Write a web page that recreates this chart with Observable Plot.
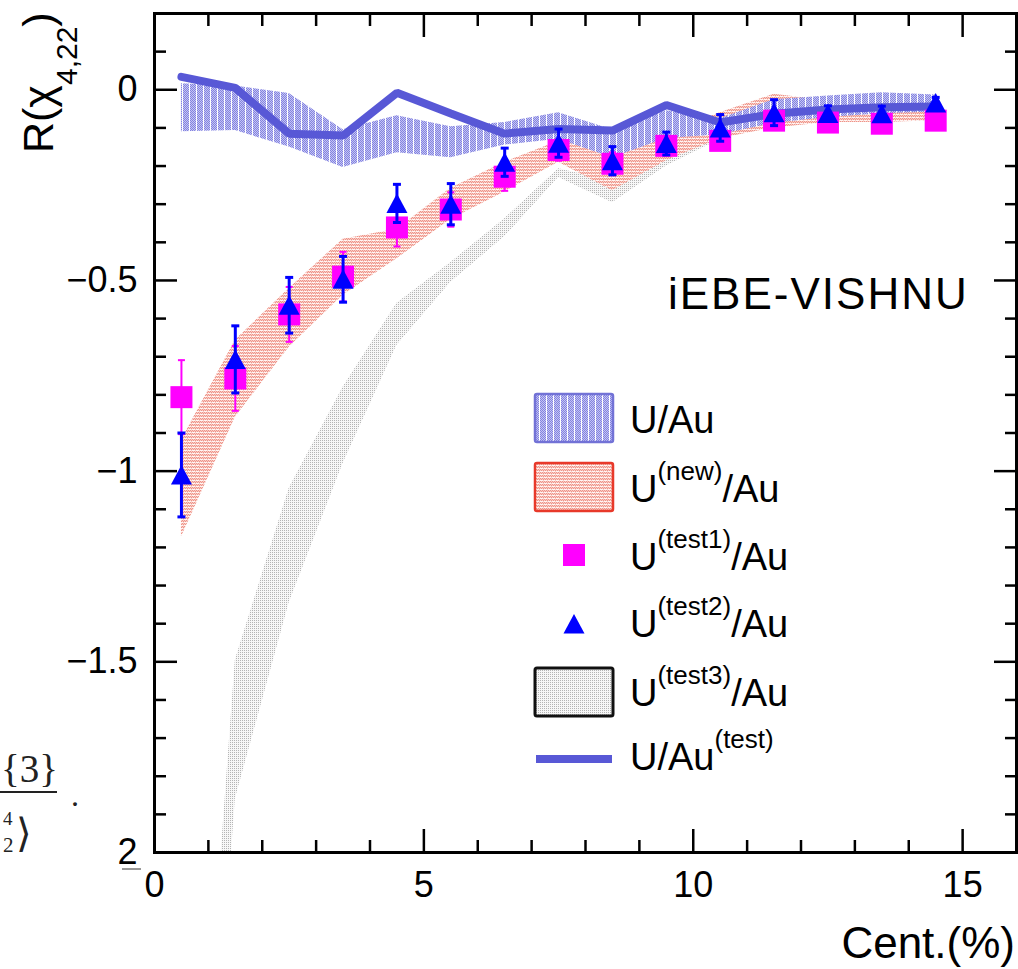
<!DOCTYPE html>
<html>
<head>
<meta charset="utf-8">
<script src="https://cdn.jsdelivr.net/npm/d3@7"></script>
<script src="https://cdn.jsdelivr.net/npm/@observablehq/plot@0.6"></script>
<style>
  body { margin: 0; background: #fff; }
  #chart { width: 1018px; height: 969px; }
  svg { font-family: "Liberation Sans", Arial, Helvetica, sans-serif; }
</style>
</head>
<body>
<div id="chart"></div>
<script>
// ---- data ----
const cent = [0.5, 1.5, 2.5, 3.5, 4.5, 5.5, 6.5, 7.5, 8.5, 9.5, 10.5, 11.5, 12.5, 13.5, 14.5];

// U/Au band (blue)
const uauHi = [0.016, 0.010, -0.010, -0.105, -0.068, -0.097, -0.086, -0.060, -0.105, -0.055, -0.076, -0.026, -0.016, -0.008, -0.014];
const uauLo = [-0.110, -0.107, -0.150, -0.204, -0.165, -0.178, -0.145, -0.130, -0.178, -0.128, -0.118, -0.088, -0.073, -0.063, -0.058];

// U(new)/Au band (red)
const unewHi = [-0.919, -0.657, -0.521, -0.392, -0.366, -0.258, -0.190, -0.135, -0.162, -0.113, -0.060, -0.012, -0.029, -0.037, -0.034];
const unewLo = [-1.173, -0.859, -0.675, -0.539, -0.443, -0.340, -0.268, -0.190, -0.265, -0.186, -0.128, -0.100, -0.086, -0.086, -0.081];

// U(test3)/Au band (grey)
const test3Hi = [-3.42, -1.495, -1.045, -0.780, -0.560, -0.453, -0.338, -0.207, -0.240, -0.140, -0.090, -0.050, -0.045, -0.045, -0.040];
const test3Lo = [-3.83, -1.860, -1.345, -0.980, -0.670, -0.505, -0.385, -0.230, -0.296, -0.200, -0.130, -0.095, -0.085, -0.085, -0.080];

// U(test1)/Au points (magenta squares) with errors
const test1 = [-0.806, -0.757, -0.589, -0.490, -0.361, -0.314, -0.228, -0.158, -0.194, -0.147, -0.134, -0.081, -0.086, -0.089, -0.081];
const test1Err = [0.097, 0.085, 0.072, 0.065, 0.050, 0.045, 0.037, 0.028, 0.030, 0.025, 0.020, 0.020, 0.015, 0.015, 0.015];

// U(test2)/Au points (blue triangles) with errors
const test2 = [-1.010, -0.707, -0.565, -0.497, -0.298, -0.300, -0.190, -0.140, -0.186, -0.141, -0.100, -0.060, -0.062, -0.063, -0.035];
const test2Err = [0.110, 0.088, 0.073, 0.060, 0.050, 0.054, 0.037, 0.037, 0.037, 0.030, 0.035, 0.034, 0.020, 0.020, 0.015];

// U/Au(test) line
const uauTest = [0.034, 0.005, -0.115, -0.120, -0.008, -0.062, -0.115, -0.103, -0.107, -0.040, -0.086, -0.063, -0.052, -0.046, -0.044];

// axes
const xTickValues = [0, 5, 10, 15];
const xTickLabels = ["0", "5", "10", "15"];
const xMinorTicks = [1, 2, 3, 4, 6, 7, 8, 9, 11, 12, 13, 14];
const yTickValues = [-2, -1.5, -1, -0.5, 0];
const yTickLabels = ["2", "−1.5", "−1", "−0.5", "0"];
const yMinorTicks = [-1.9, -1.8, -1.7, -1.6, -1.4, -1.3, -1.2, -1.1, -0.9, -0.8, -0.7, -0.6, -0.4, -0.3, -0.2, -0.1, 0.1];
const xTitle = "Cent.(%)";
const modelLabel = "iEBE-VISHNU";

// legend entries: base text, superscript, tail
const legendEntries = [
  {kind: "boxBlue", base: "U/Au", sup: "", tail: ""},
  {kind: "boxRed", base: "U", sup: "(new)", tail: "/Au"},
  {kind: "square", base: "U", sup: "(test1)", tail: "/Au"},
  {kind: "triangle", base: "U", sup: "(test2)", tail: "/Au"},
  {kind: "boxGrey", base: "U", sup: "(test3)", tail: "/Au"},
  {kind: "line", base: "U/Au", sup: "(test)", tail: ""}
];

// ---- table for Plot ----
const rows = cent.map((x, i) => ({
  x,
  bHi: uauHi[i], bLo: uauLo[i],
  rHi: unewHi[i], rLo: unewLo[i],
  gHi: test3Hi[i], gLo: test3Lo[i],
  s: test1[i], sLo: test1[i] - test1Err[i], sHi: test1[i] + test1Err[i],
  t: test2[i], tLo: test2[i] - test2Err[i], tHi: test2[i] + test2Err[i],
  line: uauTest[i]
}));

// custom symbols
const squareSym = {draw(ctx) { ctx.moveTo(-11, -11); ctx.lineTo(11, -11); ctx.lineTo(11, 11); ctx.lineTo(-11, 11); ctx.closePath(); }};
const triSym = {draw(ctx) { ctx.moveTo(0, -10); ctx.lineTo(10.5, 9.5); ctx.lineTo(-10.5, 9.5); ctx.closePath(); }};
const capPink = {draw(ctx) { ctx.moveTo(-3.5, 0); ctx.lineTo(3.5, 0); }};
const capBlue = {draw(ctx) { ctx.moveTo(-4, 0); ctx.lineTo(4, 0); }};

const MAGENTA = "#ff00ff", BLUE = "#0000ff", LINEBLUE = "#5858d6";

const chart = Plot.plot({
  width: 1018,
  height: 969,
  marginLeft: 154,
  marginRight: 2,
  marginTop: 13,
  marginBottom: 117,
  x: {domain: [0, 16]},
  y: {domain: [-2, 0.2]},
  style: {fontFamily: "'Liberation Sans', Arial, Helvetica, sans-serif", color: "#000", background: "#fff", overflow: "visible"},
  marks: [
    Plot.areaY(rows, {x: "x", y1: "gLo", y2: "gHi", fill: "url(#pGrey)", clip: true}),
    Plot.areaY(rows, {x: "x", y1: "rLo", y2: "rHi", fill: "url(#pRed)"}),
    Plot.areaY(rows, {x: "x", y1: "bLo", y2: "bHi", fill: "url(#pBlue)"}),
    Plot.line(rows, {x: "x", y: "line", stroke: LINEBLUE, strokeWidth: 8, strokeLinejoin: "miter"}),
    // magenta squares + errors
    Plot.ruleX(rows, {x: "x", y1: "sLo", y2: "sHi", stroke: MAGENTA, strokeWidth: 2}),
    Plot.dot(rows, {x: "x", y: "sLo", symbol: capPink, r: 4, stroke: MAGENTA, strokeWidth: 2, fill: "none"}),
    Plot.dot(rows, {x: "x", y: "sHi", symbol: capPink, r: 4, stroke: MAGENTA, strokeWidth: 2, fill: "none"}),
    Plot.dot(rows, {x: "x", y: "s", symbol: squareSym, r: 11, fill: MAGENTA, stroke: "none"}),
    // blue triangles + errors
    Plot.ruleX(rows, {x: "x", y1: "tLo", y2: "tHi", stroke: BLUE, strokeWidth: 3}),
    Plot.dot(rows, {x: "x", y: "tLo", symbol: capBlue, r: 4, stroke: BLUE, strokeWidth: 3, fill: "none"}),
    Plot.dot(rows, {x: "x", y: "tHi", symbol: capBlue, r: 4, stroke: BLUE, strokeWidth: 3, fill: "none"}),
    Plot.dot(rows, {x: "x", y: "t", symbol: triSym, r: 10, fill: BLUE, stroke: "none"}),
    // ticks (inward, all four sides)
    Plot.axisX(xTickValues, {anchor: "bottom", tickSize: -23, strokeWidth: 2.5, fill: "none", label: null}),
    Plot.axisX(xMinorTicks, {anchor: "bottom", tickSize: -12, strokeWidth: 2.5, fill: "none", label: null}),
    Plot.axisX(xTickValues, {anchor: "top", tickSize: -23, strokeWidth: 2.5, fill: "none", label: null}),
    Plot.axisX(xMinorTicks, {anchor: "top", tickSize: -12, strokeWidth: 2.5, fill: "none", label: null}),
    Plot.axisY(yTickValues, {anchor: "left", tickSize: -23, strokeWidth: 2.5, fill: "none", label: null}),
    Plot.axisY(yMinorTicks, {anchor: "left", tickSize: -12, strokeWidth: 2.5, fill: "none", label: null}),
    Plot.axisY(yTickValues, {anchor: "right", tickSize: -23, strokeWidth: 2.5, fill: "none", label: null}),
    Plot.axisY(yMinorTicks, {anchor: "right", tickSize: -12, strokeWidth: 2.5, fill: "none", label: null}),
    // tick labels
    Plot.axisX(xTickValues, {anchor: "bottom", tickSize: 0, tickPadding: 19, fontSize: 36, label: null,
      tickFormat: d => xTickLabels[xTickValues.indexOf(d)]}),
    Plot.axisY(yTickValues, {anchor: "left", tickSize: 0, tickPadding: 17, fontSize: 36, label: null,
      tickFormat: d => yTickLabels[yTickValues.indexOf(d)]}),
    Plot.frame({stroke: "#000", strokeWidth: 3})
  ]
});

document.getElementById("chart").appendChild(chart);

// ---- patterns ----
const svg = d3.select(chart);
const defs = svg.insert("defs", ":first-child");

const pb = defs.append("pattern").attr("id", "pBlue").attr("patternUnits", "userSpaceOnUse")
  .attr("width", 7).attr("height", 2);
pb.append("rect").attr("width", 7).attr("height", 2).attr("fill", "#c6c6f3");
[[1,0],[3,0],[5,0],[2,1],[4,1],[6,1]].forEach(([a,b]) =>
  pb.append("rect").attr("x", a).attr("y", b).attr("width", 1).attr("height", 1).attr("fill", "#8282e0"));
pb.append("rect").attr("x", 0).attr("y", 0).attr("width", 1).attr("height", 2).attr("fill", "#ffffff");

const pr = defs.append("pattern").attr("id", "pRed").attr("patternUnits", "userSpaceOnUse")
  .attr("width", 4).attr("height", 3);
pr.append("rect").attr("width", 4).attr("height", 3).attr("fill", "#f9ccc6");
[[0,1],[2,1],[1,2],[3,2]].forEach(([a,b]) =>
  pr.append("rect").attr("x", a).attr("y", b).attr("width", 1).attr("height", 1).attr("fill", "#ee9488"));
pr.append("rect").attr("x", 0).attr("y", 0).attr("width", 3).attr("height", 1).attr("fill", "#fff5f3");

const pg = defs.append("pattern").attr("id", "pGrey").attr("patternUnits", "userSpaceOnUse")
  .attr("width", 2).attr("height", 2);
pg.append("rect").attr("width", 2).attr("height", 2).attr("fill", "#f7f7f7");
pg.append("rect").attr("x", 0).attr("y", 0).attr("width", 1).attr("height", 1).attr("fill", "#b4b4b4");

// ---- titles and labels ----
const FONT = "'Liberation Sans', Arial, Helvetica, sans-serif";
const yt = svg.append("text").attr("transform", "translate(53,153) rotate(-90)").attr("text-anchor", "start")
  .attr("font-family", FONT).attr("font-size", 43).attr("fill", "#000");
yt.append("tspan").text("R(χ");
yt.append("tspan").attr("dy", 24).attr("font-size", 30).text("4,22");
yt.append("tspan").attr("dy", -24).text(")");

svg.append("text").attr("x", 1015).attr("y", 958).attr("text-anchor", "end")
  .attr("font-family", FONT).attr("font-size", 44).attr("fill", "#000").text(xTitle);

svg.append("text").attr("x", 668).attr("y", 309).attr("text-anchor", "start")
  .attr("font-family", FONT).attr("font-size", 44).attr("letter-spacing", "2px").attr("fill", "#000").text(modelLabel);

// ---- legend ----
const legX = 535, legW = 78, legTextX = 630;
const legRowY = [418, 487, 555, 624, 692, 759];   // entry centres
const legBase = [433, 502, 570, 637, 706, 770];  // text baselines
const lg = svg.append("g").attr("text-anchor", "start");
legendEntries.forEach((e, i) => {
  const cy = legRowY[i];
  if (e.kind === "boxBlue" || e.kind === "boxRed" || e.kind === "boxGrey") {
    const fill = e.kind === "boxBlue" ? "url(#pBlue)" : e.kind === "boxRed" ? "url(#pRed)" : "url(#pGrey)";
    const stroke = e.kind === "boxBlue" ? "#7272d6" : e.kind === "boxRed" ? "#e8392a" : "#111";
    const sw = e.kind === "boxGrey" ? 3 : 2.5;
    lg.append("rect").attr("x", legX).attr("y", cy - 24).attr("width", legW).attr("height", 48)
      .attr("fill", fill).attr("stroke", stroke).attr("stroke-width", sw).attr("rx", 2);
  } else if (e.kind === "square") {
    lg.append("path").attr("transform", `translate(${legX + legW / 2},${cy})`)
      .attr("d", d3.symbol().type(squareSym)()).attr("fill", MAGENTA);
  } else if (e.kind === "triangle") {
    lg.append("path").attr("transform", `translate(${legX + legW / 2},${cy})`)
      .attr("d", d3.symbol().type(triSym)()).attr("fill", BLUE);
  } else if (e.kind === "line") {
    lg.append("line").attr("x1", legX + 1).attr("x2", legX + legW - 1).attr("y1", cy).attr("y2", cy)
      .attr("stroke", LINEBLUE).attr("stroke-width", 8);
  }
  const t = lg.append("text").attr("x", legTextX).attr("y", legBase[i]).attr("text-anchor", "start")
    .attr("font-family", FONT).attr("font-size", 38).attr("fill", "#000");
  t.append("tspan").text(e.base);
  if (e.sup) {
    t.append("tspan").attr("dy", -22).attr("font-size", 26).text(e.sup);
    if (e.tail) t.append("tspan").attr("dy", 22).attr("font-size", 38).text(e.tail);
  } else if (e.tail) {
    t.append("tspan").text(e.tail);
  }
});

// ---- fragment of another figure's equation visible at the left edge ----
const SERIF = "'Liberation Serif', 'DejaVu Serif', serif";
const frag = svg.append("g").attr("text-anchor", "start").attr("fill", "#222");
frag.append("text").attr("x", 1).attr("y", 782).attr("font-family", SERIF).attr("font-size", 39).text("{3}");
frag.append("line").attr("x1", 0).attr("x2", 57).attr("y1", 792).attr("y2", 792).attr("stroke", "#222").attr("stroke-width", 2);
frag.append("text").attr("x", 3).attr("y", 825).attr("font-family", SERIF).attr("font-size", 19).text("4");
frag.append("text").attr("x", 3).attr("y", 852).attr("font-family", SERIF).attr("font-size", 21).text("2");
frag.append("text").attr("x", 16).attr("y", 847).attr("font-family", "'DejaVu Serif', serif").attr("font-size", 40).text("⟩");
frag.append("text").attr("x", 71).attr("y", 806).attr("font-family", SERIF).attr("font-size", 32).text(".");
frag.append("line").attr("x1", 122).attr("x2", 141).attr("y1", 869).attr("y2", 869).attr("stroke", "#333").attr("stroke-width", 1);
</script>
</body>
</html>
